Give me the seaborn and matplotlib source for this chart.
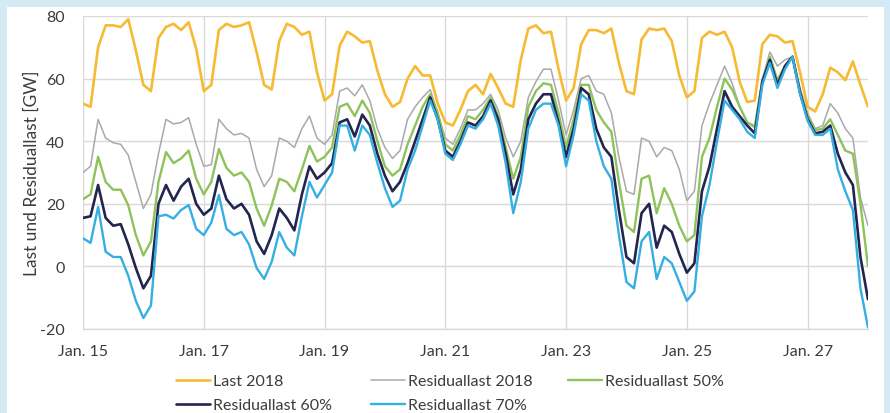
import matplotlib
matplotlib.use("Agg")
import matplotlib.pyplot as plt
import matplotlib.dates as mdates
from matplotlib.patches import Rectangle
import pandas as pd
import seaborn as sns

# ---------------- data (3-hourly, Jan 15 00:00 .. Jan 28 00:00, 2018) ----------------
start_time = "2018-01-15"
step = "3h"

last_2018 = [
    52, 51, 70, 77, 77, 76.5, 79, 69,
    58, 56, 73, 76.5, 77.5, 75.5, 78, 69.5,
    56, 58, 75.5, 77.5, 76.5, 77, 78, 68.5,
    58, 56.5, 72, 77.5, 76.5, 74, 75, 62,
    53, 55, 70.5, 75, 73.5, 71.5, 72, 62.5,
    55, 51, 52.5, 60, 64, 61, 61, 52,
    46, 45, 50, 56, 58, 55, 61.5, 57,
    52, 51, 66, 76, 77, 74.5, 75, 63,
    53, 57, 71, 75.5, 75.5, 74.5, 76, 65,
    56, 55, 72.5, 76, 75.5, 76, 72, 61,
    54, 56, 73, 75, 74, 75, 70, 59,
    52.5, 53, 71, 74, 73.5, 71.5, 72, 62,
    51, 49.5, 55, 63.5, 62, 59.5, 65.5, 58,
    51,
]
res_2018 = [
    30, 32, 47, 41, 39.5, 39, 35.5, 27,
    18.5, 23, 36, 47, 45.5, 46, 47.5, 39,
    32, 32.5, 47, 44, 42, 42.5, 41, 31,
    25.5, 29, 41, 40, 38, 44, 48, 41,
    39, 42, 56, 57, 54.5, 58, 53, 44,
    38, 34.5, 37, 47, 51, 54, 56.5, 49,
    41, 39, 44, 50, 50, 52, 55, 50,
    41, 35, 40, 54, 59, 63, 63, 53,
    42, 50, 60, 61, 56, 55, 49, 35,
    24, 23, 41, 40, 35, 38, 37, 31,
    21, 24, 45, 52, 58, 64, 58.5, 51,
    46, 45, 60, 68.5, 64, 66, 67, 57,
    49, 44, 45, 52, 49, 44, 41, 22,
    13,
]
res_50 = [
    21.5, 23, 35, 27, 24.5, 24.5, 19.5, 10,
    3.5, 8, 27, 36.5, 33, 34.5, 37, 28,
    23, 27, 37.5, 31.5, 29, 30, 27, 18.5,
    13, 19.5, 28, 27, 24, 31, 38.5, 33.5,
    35, 38, 51, 52, 48, 53, 49, 40,
    32, 29, 31, 39, 45, 51, 55, 49,
    39, 37, 42, 48, 47, 50, 54, 48,
    38, 28, 35, 51, 56, 58.5, 58, 49,
    38, 47, 58, 58, 50, 46, 43, 27,
    13, 11, 28, 29, 17, 25, 20, 13,
    8, 10, 35, 41, 51, 60, 56.5, 51,
    46, 44.5, 59, 67, 59.5, 64, 67, 56,
    48, 43.5, 44, 47, 42, 37, 36, 20,
    0,
]
res_60 = [
    15.5, 16, 26, 15.5, 13, 13.5, 7, -0.5,
    -7, -3, 20, 26, 21, 25.5, 28, 20,
    16.5, 18.5, 29, 21.5, 18.5, 20, 16.5, 8,
    4, 10, 18.5, 15.5, 11.5, 23, 32, 28,
    30, 33, 46, 47, 41.5, 48.5, 45, 36,
    29, 24, 27, 33, 40, 47, 54, 47,
    37, 35, 40, 46, 45, 48, 53, 47,
    36, 23, 31, 47, 52, 55, 55, 46,
    35, 44, 57, 55, 44, 38, 35, 18,
    3, 1, 17, 20, 6, 13, 11, 4,
    -2, 1, 24, 32, 44, 56, 51, 48,
    45, 42.5, 59, 66, 58, 64, 67, 55.5,
    47, 42.5, 43, 45, 36, 30, 26, 3,
    -10.5,
]
res_70 = [
    9, 7.5, 19, 4.7, 3, 3, -3, -11,
    -16.5, -12.5, 16, 16.5, 15.3, 18, 19.6, 12,
    10, 14, 22.8, 12, 10, 11, 7, -0.5,
    -4, 1.5, 11, 6, 3.5, 16, 27, 22,
    26, 30, 45, 45, 37, 45, 42, 33,
    25, 19, 21, 31, 37, 45, 53, 47,
    36, 34, 39, 45, 44, 47, 52, 45,
    33, 17, 27, 44, 50, 52, 52, 45,
    32, 42, 55, 53, 40, 32, 28, 10,
    -5, -7, 8, 11, -4, 3, 1, -5,
    -11, -8, 16, 26, 40, 53, 50, 47,
    43, 41, 58, 65, 57, 63, 67, 55,
    46.5, 42, 42, 44, 31, 24, 18, -7,
    -19.5,
]

series_names = ["Last 2018", "Residuallast 2018", "Residuallast 50%",
                "Residuallast 60%", "Residuallast 70%"]
series_values = [last_2018, res_2018, res_50, res_60, res_70]

y_ticks = [-20, 0, 20, 40, 60, 80]
x_tick_dates = ["2018-01-15", "2018-01-17", "2018-01-19", "2018-01-21",
                "2018-01-23", "2018-01-25", "2018-01-27"]
x_tick_labels = ["Jan. 15", "Jan. 17", "Jan. 19", "Jan. 21",
                 "Jan. 23", "Jan. 25", "Jan. 27"]
x_end = "2018-01-28"
y_label = "Last und Residuallast [GW]"

# ---------------- styling ----------------
colors = ["#F6BA33", "#A9A9A9", "#8EC25A", "#23254F", "#35AFE2"]
widths = [1.9, 1.1, 1.7, 1.9, 1.7]

sns.set_style("white")
plt.rcParams["font.family"] = ["Lato", "DejaVu Sans"]
text_color = "#3C3C3C"
grid_color = "#D9D9D9"

times = pd.date_range(start_time, periods=len(last_2018), freq=step)
frames = []
for name, vals in zip(series_names, series_values):
    frames.append(pd.DataFrame({"time": times, "value": vals, "series": name}))
df = pd.concat(frames, ignore_index=True)

fig = plt.figure(figsize=(8.90, 4.14), dpi=100)
fig.patch.set_facecolor("#D6EAF5")
fig.add_artist(Rectangle((7 / 890, 0), 877 / 890, 406 / 414,
                         transform=fig.transFigure, facecolor="white",
                         edgecolor="none", zorder=0))

ax = fig.add_axes([83 / 890, 1 - 330 / 414, 785 / 890, 313 / 414])
ax.set_facecolor("white")

for name, col, lw in zip(series_names, colors, widths):
    sns.lineplot(data=df[df["series"] == name], x="time", y="value",
                 color=col, linewidth=lw, label=name, ax=ax,
                 solid_joinstyle="round", solid_capstyle="round")

ax.set_xlim(pd.Timestamp(start_time), pd.Timestamp(x_end))
ax.set_ylim(y_ticks[0], y_ticks[-1])
ax.set_yticks(y_ticks)
ax.set_yticklabels([str(v) for v in y_ticks])
ax.set_xticks([mdates.date2num(pd.Timestamp(d)) for d in x_tick_dates])
ax.set_xticklabels(x_tick_labels)

ax.grid(True, color=grid_color, linewidth=1.0)
ax.set_axisbelow(True)
for s in ["top", "right", "left"]:
    ax.spines[s].set_visible(False)
ax.spines["bottom"].set_color(grid_color)
ax.spines["bottom"].set_linewidth(1.0)

ax.tick_params(axis="both", length=0, labelsize=11.5, colors=text_color)
ax.tick_params(axis="x", pad=11)
ax.tick_params(axis="y", pad=13)
ax.set_xlabel("")
ax.set_ylabel(y_label, fontsize=12.5, color=text_color, labelpad=0)

handles, labels = ax.get_legend_handles_labels()
ax.get_legend().remove()
hmap = dict(zip(labels, handles))
legend_columns = [["Last 2018", "Residuallast 60%"],
                  ["Residuallast 2018", "Residuallast 70%"],
                  ["Residuallast 50%"]]
column_x = [176, 371, 568]
for names, x0 in zip(legend_columns, column_x):
    leg = fig.legend([hmap[n] for n in names], names,
                     ncol=1, loc="upper left",
                     bbox_to_anchor=(x0 / 890, 1 - 375 / 414),
                     frameon=False, fontsize=11.5, handlelength=2.1,
                     handletextpad=0.2, labelspacing=0.62, borderpad=0,
                     borderaxespad=0, labelcolor=text_color)

fig.savefig("out.png", dpi=100, facecolor=fig.get_facecolor())
